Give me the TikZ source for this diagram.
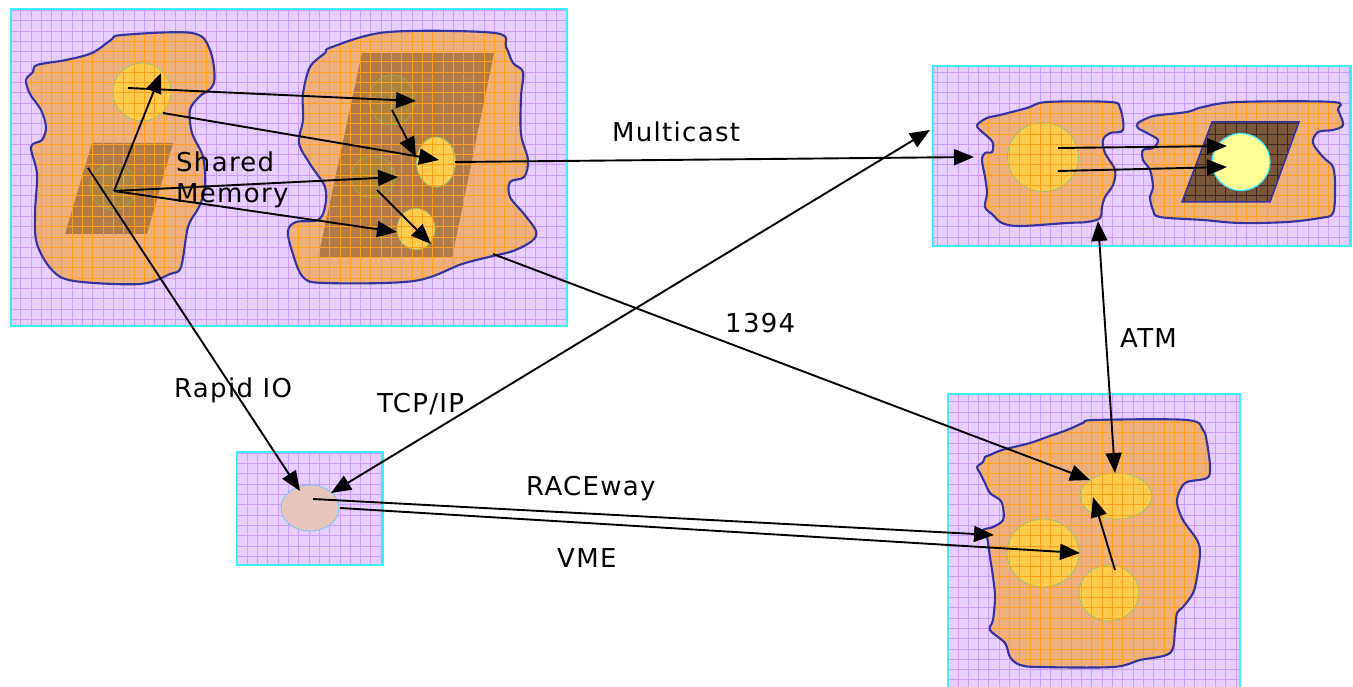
\documentclass[tikz,border=0pt]{standalone}
\usepackage{fontspec}
\newfontfamily\lblfont[LetterSpace=5]{DejaVu Sans}
\usetikzlibrary{arrows.meta,shapes.geometric}

\definecolor{panelfill}{RGB}{230,206,255}
\definecolor{panelgrid}{RGB}{204,156,250}
\definecolor{paneledge}{RGB}{60,240,250}
\definecolor{blobfill}{RGB}{240,176,126}
\definecolor{blobgrid}{RGB}{255,160,30}
\definecolor{blobedge}{RGB}{50,50,160}
\definecolor{boardfill}{RGB}{178,122,70}
\definecolor{darkboard}{RGB}{122,86,58}
\definecolor{darkgrid}{RGB}{60,40,30}
\definecolor{chipfill}{RGB}{255,204,80}
\definecolor{chipedge}{RGB}{140,200,110}
\definecolor{dimchip}{RGB}{172,132,62}
\definecolor{palechip}{RGB}{255,255,153}
\definecolor{portfill}{RGB}{232,198,190}
\definecolor{portedge}{RGB}{110,200,250}

\tikzset{
  panelgridline/.style={draw=panelgrid, line width=0.7pt},
  blobgridline/.style={draw=blobgrid, line width=0.7pt},
  paneledgeline/.style={draw=paneledge, line width=2pt},
  blobline/.style={draw=blobedge, line width=2.1pt},
  chip/.style={ellipse, fill=chipfill, draw=chipedge, line width=0.8pt, inner sep=0pt},
  dim/.style={ellipse, fill=dimchip, draw=chipedge!70!dimchip, line width=0.6pt, inner sep=0pt},
  link/.style={line width=1.9pt, -{Triangle[length=20pt,width=16pt]}},
  duplex/.style={line width=1.9pt, {Triangle[length=20pt,width=16pt]}-{Triangle[length=20pt,width=16pt]}},
  lbl/.style={font=\lblfont\fontsize{26}{31}\selectfont, inner sep=0pt, anchor=base west},
}

% a lavender board with its own grid and cyan frame
\newcommand\gridpanel[4]{%
  \fill[panelfill] (#1,#2) rectangle (#3,#4);
  \begin{scope}
    \clip (#1,#2) rectangle (#3,#4);
    \draw[panelgridline] (#1,#2) grid[step=10.3pt] (#3,#4);
  \end{scope}
  \draw[paneledgeline] (#1,#2) rectangle (#3,#4);
}

\begin{document}
\begin{tikzpicture}[x=1pt,y=-1pt]
\useasboundingbox (0,0) rectangle (1353,687);
\fill[white] (0,0) rectangle (1353,687);

% ---------- boards ----------
\gridpanel{11}{9}{567}{326}
\gridpanel{933}{66}{1351}{246}
\gridpanel{948}{394}{1240}{692}
\gridpanel{237}{452}{383}{565}

% ---------- upper-left board, left processor ----------
\path[save path=\blobAL] plot[smooth cycle, tension=0.55] coordinates {
 (122,35) (192,33) (210,50) (214,83) (199,97) (190,110) (192,133) (203,157)
 (205,187) (199,207) (188,227) (181,267) (170,274) (140,284) (74,281) (52,270)
 (37,244) (35,214) (37,174) (31,147) (42,140) (46,127) (41,110) (30,94) (26,80)
 (33,72) (37,65) (66,60) (92,53) (111,40)};
\begin{scope}
  \clip[use path=\blobAL];
  \fill[blobfill] (0,0) rectangle (600,330);
  \fill[boardfill] (92,143) -- (173,143) -- (147,234) -- (65,234) -- cycle;
  \node[dim, minimum width=46pt, minimum height=46pt] (memL) at (113,187) {};
  \node[chip, minimum width=58pt, minimum height=58pt] (cpuL) at (142,92) {};
  \draw[blobgridline] (0,0) grid[step=10.3pt] (600,330);
\end{scope}
\draw[blobline, use path=\blobAL];

% ---------- upper-left board, right processor ----------
\path[save path=\blobAR] plot[smooth cycle, tension=0.55] coordinates {
 (332,47) (388,32) (495,33) (506,47) (513,63) (523,72) (521,97) (521,134)
 (528,160) (524,177) (510,182) (510,197) (524,214) (536,231) (532,241) (513,251)
 (493,256) (462,264) (414,281) (325,283) (303,277) (292,251) (288,231) (296,222)
 (318,220) (325,207) (325,187) (310,164) (299,143) (303,120) (303,94) (310,67) (325,53)};
\begin{scope}
  \clip[use path=\blobAR];
  \fill[blobfill] (0,0) rectangle (600,330);
  \fill[boardfill] (362,53) -- (494,53) -- (452,258) -- (318,258) -- cycle;
  \node[dim, minimum width=46pt, minimum height=50pt] (memR1) at (392,100) {};
  \node[dim, minimum width=44pt, minimum height=42pt] (memR2) at (373,177) {};
  \node[chip, minimum width=39pt, minimum height=50pt] (cpuR1) at (436,162) {};
  \node[chip, minimum width=38pt, minimum height=41pt] (cpuR2) at (416,229) {};
  \draw[blobgridline] (0,0) grid[step=10.3pt] (600,330);
\end{scope}
\draw[blobline, use path=\blobAR];

% ---------- upper-right board ----------
\path[save path=\blobBL] plot[smooth cycle, tension=0.55] coordinates {
 (977,125) (987,118) (1000,115) (1027,108) (1047,102) (1110,102) (1120,108)
 (1123,130) (1110,133) (1103,140) (1105,153) (1115,170) (1113,185) (1105,197)
 (1102,207) (1100,218) (1087,222) (1067,223) (1020,226) (1002,223) (993,215)
 (985,207) (987,193) (985,177) (982,160) (985,153) (992,152) (993,143) (988,137) (980,130)};
\begin{scope}
  \clip[use path=\blobBL];
  \fill[blobfill] (930,60) rectangle (1353,250);
  \node[chip, minimum width=71pt, minimum height=69pt] (nodeB) at (1043,157) {};
  \draw[blobgridline] (930,60) grid[step=10.3pt] (1353,250);
\end{scope}
\draw[blobline, use path=\blobBL];

\path[save path=\blobBR] plot[smooth cycle, tension=0.55] coordinates {
 (1138,123) (1150,117) (1160,115) (1187,112) (1203,107) (1237,102) (1333,102)
 (1338,110) (1343,125) (1333,130) (1318,132) (1313,143) (1323,157) (1333,167)
 (1335,187) (1333,213) (1320,218) (1287,222) (1240,223) (1203,220) (1160,217)
 (1153,210) (1150,197) (1153,187) (1150,170) (1143,160) (1143,150) (1153,148)
 (1158,140) (1147,133) (1138,128)};
\begin{scope}
  \clip[use path=\blobBR];
  \fill[blobfill] (930,60) rectangle (1353,250);
  \draw[blobgridline] (930,60) grid[step=10.3pt] (1353,250);
\end{scope}
\draw[blobline, use path=\blobBR];
\path[save path=\boardB] (1212,122) -- (1299,122) -- (1270,202) -- (1182,202) -- cycle;
\fill[darkboard, use path=\boardB];
\begin{scope}
  \clip[use path=\boardB];
  \draw[darkgrid, line width=0.6pt] (930,60) grid[step=10.3pt] (1353,250);
\end{scope}
\draw[blobline, line width=1.5pt, use path=\boardB];
\node[ellipse, fill=palechip, draw=paneledge, line width=1.2pt, inner sep=0pt,
      minimum width=58pt, minimum height=57pt] (target) at (1241,162) {};

% ---------- lower-right board ----------
\path[save path=\blobC] plot[smooth cycle, tension=0.55] coordinates {
 (977,467) (983,462) (985,457) (990,455) (1002,450) (1030,443) (1047,437)
 (1067,430) (1083,423) (1095,420) (1187,420) (1203,430) (1207,443) (1210,467)
 (1207,478) (1187,482) (1180,490) (1177,503) (1183,520) (1197,540) (1200,553)
 (1197,577) (1193,593) (1183,607) (1177,613) (1175,630) (1170,653) (1140,660)
 (1113,667) (1040,667) (1020,665) (1010,657) (1005,643) (990,630) (993,620)
 (995,597) (993,577) (990,557) (987,537) (983,530) (993,527) (1003,520)
 (1003,507) (1000,500) (990,493) (985,483) (980,473)};
\begin{scope}
  \clip[use path=\blobC];
  \fill[blobfill] (940,390) rectangle (1250,690);
  \node[chip, minimum width=72pt, minimum height=46pt] (cpuC1) at (1116,496) {};
  \node[chip, minimum width=72pt, minimum height=68pt] (cpuC2) at (1043,553) {};
  \node[chip, minimum width=60pt, minimum height=56pt] (cpuC3) at (1109,593) {};
  \draw[blobgridline] (940,390) grid[step=10.3pt] (1250,690);
\end{scope}
\draw[blobline, use path=\blobC];

% ---------- small board ----------
\node[ellipse, fill=portfill, draw=portedge, line width=0.8pt, inner sep=0pt,
      minimum width=58pt, minimum height=46pt] (port) at (310,508) {};

% ---------- arrow end points ----------
\coordinate (hub)    at (114,191);
\coordinate (srcL1)  at (128,88);
\coordinate (srcL2)  at (163,113);
\coordinate (tipL)   at (161,73);
\coordinate (tipM1)  at (416,101);
\coordinate (tipM2)  at (398,177);
\coordinate (tipC1)  at (439,160);
\coordinate (srcM1)  at (392,110);
\coordinate (tipC1b) at (416,157);
\coordinate (tipC2)  at (397,232);
\coordinate (srcM2)  at (377,190);
\coordinate (tipC2b) at (431,244);
\coordinate (rioSrc) at (88,168);
\coordinate (rioTip) at (300,491);
\coordinate (mcSrc)  at (455,162);
\coordinate (mcTip)  at (974,157);
\coordinate (fwSrc)  at (493,254);
\coordinate (fwTip)  at (1090,480);
\coordinate (tcpA)   at (331,493);
\coordinate (tcpB)   at (930,130);
\coordinate (rwSrc)  at (313,499);
\coordinate (rwTip)  at (994,535);
\coordinate (vmeSrc) at (340,508);
\coordinate (vmeTip) at (1080,553);
\coordinate (atmA)   at (1098,221);
\coordinate (atmB)   at (1115,473);
\coordinate (cSrc)   at (1115,570);
\coordinate (cTip)   at (1093,497);
\coordinate (bSrc1)  at (1058,148);
\coordinate (bTip1)  at (1227,146);
\coordinate (bSrc2)  at (1058,171);
\coordinate (bTip2)  at (1227,167);

% ---------- connectors ----------
\draw[link] (srcL1) -- (tipM1);
\draw[link] (srcL2) -- (tipC1);
\draw[link] (srcM1) -- (tipC1b);
\draw[link] (hub) -- (tipL);
\draw[link] (hub) -- (tipM2);
\draw[link] (hub) -- (tipC2);
\draw[link] (srcM2) -- (tipC2b);
\draw[link] (rioSrc) -- (rioTip);
\draw[link] (mcSrc) -- (mcTip);
\draw[link] (fwSrc) -- (fwTip);
\draw[duplex] (tcpA) -- (tcpB);
\draw[link] (rwSrc) -- (rwTip);
\draw[link] (vmeSrc) -- (vmeTip);
\draw[duplex] (atmA) -- (atmB);
\draw[link] (cSrc) -- (cTip);
\draw[link] (bSrc1) -- (bTip1);
\draw[link] (bSrc2) -- (bTip2);

% ---------- labels ----------
\node[lbl, anchor=north west, align=left] (shm) at (176,152) {Shared\\Memory};
\node[lbl] (mc)  at (612,142) {Multicast};
\node[lbl] (fw)  at (725,332) {1394};
\node[lbl] (atm) at (1120,347) {ATM};
\node[lbl] (rio) at (174,397) {Rapid IO};
\node[lbl] (tcp) at (377,412) {TCP/IP};
\node[lbl] (rw)  at (526,495) {RACEway};
\node[lbl] (vme) at (557,567) {VME};
\end{tikzpicture}
\end{document}
